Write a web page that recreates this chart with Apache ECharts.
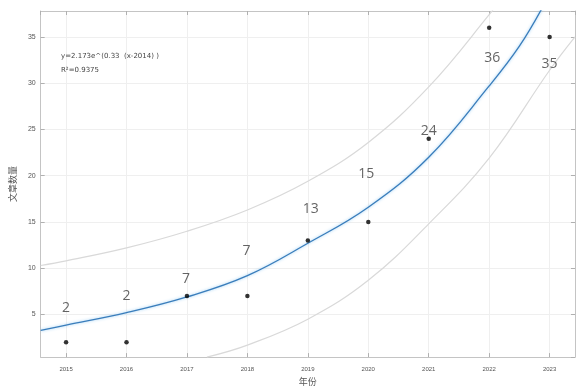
<!DOCTYPE html>
<html>
<head>
<meta charset="utf-8">
<script src="https://cdn.jsdelivr.net/npm/echarts@6/dist/echarts.min.js"></script>
<style>html,body{margin:0;padding:0;background:#fff}#c{width:576px;height:391px}</style>
</head>
<body>
<div id="c"></div>
<script>
// Observed data
const years = [2015, 2016, 2017, 2018, 2019, 2020, 2021, 2022, 2023];
const counts = [2, 2, 7, 7, 13, 15, 24, 36, 35];

// Fitted curve
const fitX = [2014.58, 2015, 2016, 2017, 2018, 2019, 2020, 2021, 2022, 2022.5, 2022.9];
const fitY = [3.3, 3.85, 5.2, 6.9, 9.2, 12.7, 16.6, 22.0, 29.7, 34.0, 38.4];

// Upper band curve
const upperX = [2014.58, 2015, 2016, 2017, 2018, 2019, 2020, 2021, 2022, 2022.2];
const upperY = [10.3, 10.8, 12.2, 14.0, 16.3, 19.4, 23.6, 29.6, 37.4, 39.2];

// Lower band curve
const lowerX = [2017.33, 2018, 2019, 2020, 2021, 2022, 2023, 2023.42];
const lowerY = [0.4, 1.7, 4.5, 8.7, 14.8, 21.9, 31.4, 35.0];

const eqText = 'y=2.173e^(0.33  (x-2014) )';
const r2Text = 'R²=0.9375';

// label placement (styles, px)
const labelDx = [0, 0, -1, -1, 3, -2, 0, 3, 0];
const labelDy = [-34, -46, -17, -45, -31, -48, -8, 30, 27];

const zip = (a, b) => a.map((v, i) => [v, b[i]]);

const chart = echarts.init(document.getElementById('c'), null, {renderer: 'canvas'});
const axisLineStyle = {color: '#c4c4c4', width: 1};
const tickStyle = {show: true, inside: true, length: 4, lineStyle: {color: '#b0b0b0'}};
const splitStyle = {show: true, lineStyle: {color: '#efefef', width: 1}};
const xFmt = v => (Math.abs(v - Math.round(v)) < 1e-6 ? String(Math.round(v)) : '');
const yFmt = v => (Math.abs(v % 5) < 1e-6 && v > 0 ? String(v) : '');

chart.setOption({
  animation: false,
  backgroundColor: '#fff',
  title: {
    text: eqText + '\n' + r2Text,
    left: 56, top: 44,
    textStyle: {fontSize: 7, fontWeight: 'normal', color: '#444', lineHeight: 14, fontFamily: 'DejaVu Sans'}
  },
  grid: {left: 29, right: 1, top: 11, bottom: 28, containLabel: false},
  xAxis: [{
    type: 'value', min: 2014.58, max: 2023.42, splitNumber: 9,
    name: '年份', nameLocation: 'middle', nameGap: 19,
    nameTextStyle: {fontSize: 9, color: '#555', fontFamily: 'Noto Sans CJK SC'},
    axisLine: {show: true, lineStyle: axisLineStyle},
    axisTick: tickStyle, splitLine: splitStyle,
    axisLabel: {formatter: xFmt, fontSize: 6, color: '#555', margin: 9, showMinLabel: false, showMaxLabel: false}
  }, {
    type: 'value', position: 'top', min: 2014.58, max: 2023.42, splitNumber: 9,
    axisLine: {show: true, lineStyle: axisLineStyle},
    axisTick: tickStyle, splitLine: {show: false}, axisLabel: {show: false}
  }],
  yAxis: [{
    type: 'value', min: 0.4, max: 37.8, splitNumber: 8,
    name: '文章数量', nameLocation: 'middle', nameGap: 14, nameRotate: 90,
    nameTextStyle: {fontSize: 9, color: '#555', fontFamily: 'Noto Sans CJK SC'},
    axisLine: {show: true, lineStyle: axisLineStyle},
    axisTick: tickStyle, splitLine: splitStyle,
    axisLabel: {formatter: yFmt, fontSize: 7, color: '#555', margin: 5, showMinLabel: false, showMaxLabel: false}
  }, {
    type: 'value', position: 'right', min: 0.4, max: 37.8, splitNumber: 8,
    axisLine: {show: true, lineStyle: axisLineStyle},
    axisTick: tickStyle, splitLine: {show: false}, axisLabel: {show: false}
  }],
  series: [
    {
      type: 'line', data: zip(upperX, upperY), smooth: 0.4, symbol: 'none', clip: true,
      lineStyle: {color: '#d9d9d9', width: 1.2}, z: 2, silent: true
    },
    {
      type: 'line', data: zip(lowerX, lowerY), smooth: 0.4, symbol: 'none', clip: true,
      lineStyle: {color: '#d9d9d9', width: 1.2}, z: 2, silent: true
    },
    {
      type: 'line', data: zip(fitX, fitY), smooth: 0.4, symbol: 'none', clip: true,
      lineStyle: {color: '#3a7dbb', width: 1.3, shadowColor: 'rgba(120,190,240,0.8)', shadowBlur: 3}, z: 3, silent: true
    },
    {
      type: 'scatter', symbolSize: 4.5, itemStyle: {color: '#000'}, z: 5,
      data: years.map((y, i) => ({
        value: [y, counts[i]],
        label: {
          show: true, position: 'inside', offset: [labelDx[i], labelDy[i]],
          formatter: String(counts[i]), fontSize: 14, color: '#3d3d3d', fontFamily: 'Open Sans'
        }
      }))
    }
  ]
});
</script>
</body>
</html>
